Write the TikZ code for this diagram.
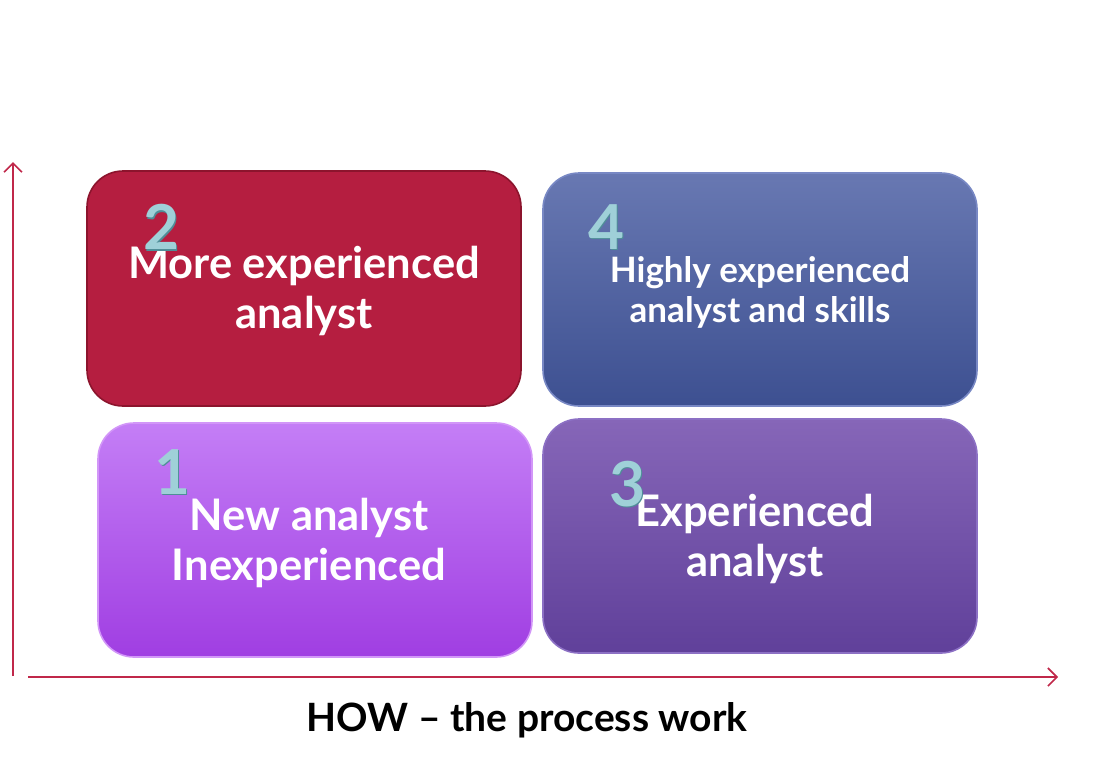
\documentclass[tikz,border=0pt]{standalone}
\usepackage{fontspec}
\setmainfont{Lato}
\usetikzlibrary{arrows.meta}
\definecolor{axisred}{HTML}{C0284A}
\definecolor{numfill}{HTML}{9FD0D8}
\definecolor{numedge}{HTML}{4F8E98}
\tikzset{
  quad/.style={rounded corners=36pt, line width=1.6pt},
  quadtext/.style={text=white, font=\bfseries\fontsize{43.5}{50}\selectfont, align=center},
  smalltext/.style={text=white, font=\bfseries\fontsize{35}{40}\selectfont, align=center},
  axis/.style={draw=axisred, line width=2pt, -{Straight Barb[length=9pt,width=18pt,line width=1.6pt]}},
  numshadow/.style={text=numedge, font=\bfseries\fontsize{62}{62}\selectfont},
  numface/.style={text=numfill, font=\bfseries\fontsize{62}{62}\selectfont},
}
% a two-tone numeral: darker copy offset behind a lighter face
\newcommand{\glassnum}[4]{%
  \node[numshadow] at (#1+1.5,#2+1.5) {#4};
  \node[numface] (#3) at (#1,#2) {#4};
}
\begin{document}
\begin{tikzpicture}[x=1pt, y=-1pt]
  \useasboundingbox (0,0) rectangle (1097,764);
  % quadrant boxes
  \draw[quad, draw={rgb,255:red,140;green,20;blue,45}, fill={rgb,255:red,181;green,30;blue,64}]
    (87,171) rectangle (521,406);
  \shade[quad, top color={rgb,255:red,104;green,120;blue,178}, bottom color={rgb,255:red,61;green,80;blue,145}]
    (543,173) rectangle (977,406);
  \draw[quad, draw={rgb,255:red,120;green,136;blue,196}] (543,173) rectangle (977,406);
  \shade[quad, top color={rgb,255:red,196;green,126;blue,246}, bottom color={rgb,255:red,160;green,62;blue,226}]
    (98,423) rectangle (532,657);
  \draw[quad, draw={rgb,255:red,210;green,150;blue,248}] (98,423) rectangle (532,657);
  \shade[quad, top color={rgb,255:red,134;green,102;blue,184}, bottom color={rgb,255:red,96;green,64;blue,154}]
    (543,419) rectangle (977,653);
  \draw[quad, draw={rgb,255:red,140;green,112;blue,196}] (543,419) rectangle (977,653);

  % axes
  \coordinate (origin-v) at (13,676);
  \coordinate (top-v) at (13,162);
  \coordinate (origin-h) at (28,677);
  \coordinate (end-h) at (1058,677);
  \draw[axis] (origin-v) -- (top-v);
  \draw[axis] (origin-h) -- (end-h);

  % labels
  \node[quadtext] (t2) at (304,291) {More experienced\\analyst};
  \node[smalltext] (t4) at (760,292) {Highly experienced\\analyst and skills};
  \node[quadtext] (t1) at (309,543) {New analyst\\Inexperienced};
  \node[quadtext] (t3) at (755,539) {Experienced\\analyst};
  \node[font=\bfseries\fontsize{39}{42}\selectfont] (how) at (527,720) {HOW -- the process work};

  % quadrant numbers
  \glassnum{161}{227}{n2}{2}
  \glassnum{606}{227}{n4}{4}
  \glassnum{172}{472}{n1}{1}
  \glassnum{627}{484}{n3}{3}
\end{tikzpicture}
\end{document}
